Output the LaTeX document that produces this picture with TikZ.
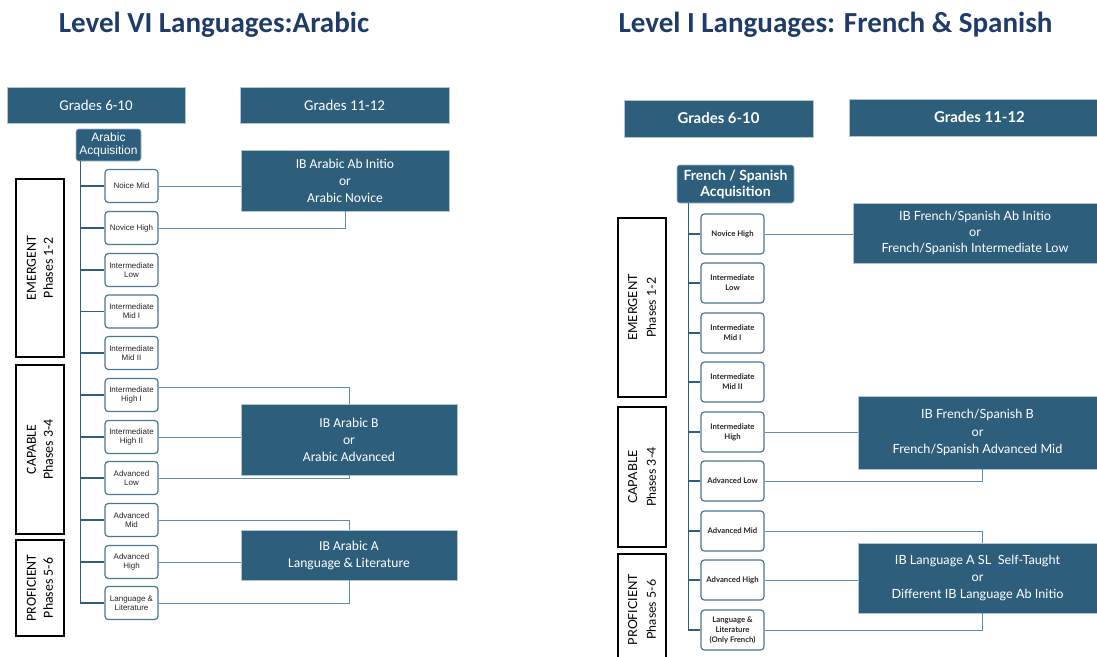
\documentclass[tikz,border=0pt]{standalone}
\usepackage{fontspec}
\setmainfont{Carlito}
\newfontfamily\arialfont{Liberation Sans}
\newfontfamily\latofont{Lato}
\usetikzlibrary{positioning}
\definecolor{boxblue}{HTML}{2D5F7D}
\definecolor{titleblue}{HTML}{1F3B6A}
\definecolor{lineblue}{HTML}{5F8CAB}
\definecolor{ulblue}{HTML}{3358B0}
\tikzstyle{title} = [text=titleblue, font={\bfseries\fontsize{21.8}{25}\selectfont}]
\tikzstyle{grade} = [fill=boxblue, draw=lineblue!50, text=white]
\tikzstyle{acq} = [fill=boxblue, draw=lineblue!60, rounded corners=2pt, text=white, align=center, inner sep=1pt]
\tikzstyle{level} = [draw=boxblue!85, fill=white, line width=0.9pt, rounded corners=2.5pt, align=center, inner sep=0pt, text=black!85]
\tikzstyle{alevel} = [level, minimum width=39.75pt, minimum height=24.75pt, font={\arialfont\fontsize{6}{6.6}\selectfont}]
\tikzstyle{flevel} = [level, minimum width=47.25pt, minimum height=30pt, font={\latofont\bfseries\fontsize{5.8}{7.5}\selectfont}]
\tikzstyle{ib} = [fill=boxblue, draw=lineblue!50, text=white, align=center]
\tikzstyle{phase} = [draw=black, line width=0.8pt, rotate=90, align=center, minimum height=36pt]
\tikzstyle{trunk} = [draw=boxblue, line width=1.1pt]
\tikzstyle{conn} = [draw=lineblue, line width=0.75pt]

\begin{document}
\begin{tikzpicture}[x=0.75pt,y=-0.75pt]
  \useasboundingbox (0,0) rectangle (1097,657);
  % Arabic
  \node[title](at) at (214,25){Level VI Languages:Arabic};
  \node[grade,minimum width=133.5pt,minimum height=27pt,font={\fontsize{11.2}{13}\selectfont}](ag1) at (96,105){Grades 6-10};
  \node[grade,minimum width=156.75pt,minimum height=27pt,font={\fontsize{11.2}{13}\selectfont}](ag2) at (344.5,105){Grades 11-12};
  \node[acq,minimum width=48.75pt,minimum height=24pt,font={\arialfont\fontsize{9}{9.8}\selectfont}](aacq) at (108.5,145){Arabic\\Acquisition};
  \node[phase,minimum width=133.5pt,font={\fontsize{10.4}{12.75}\selectfont}](ap1) at (40,268){EMERGENT\\Phases 1-2};
  \node[phase,minimum width=126.75pt,font={\fontsize{10.4}{12.75}\selectfont}](ap2) at (40,449.5){CAPABLE\\Phases 3-4};
  \node[phase,minimum width=72pt,font={\fontsize{10.4}{12.75}\selectfont}](ap3) at (40,588){PROFICIENT\\Phases 5-6};
  \node[alevel](a1) at (131.5,186){Noice Mid};
  \node[alevel](a2) at (131.5,228){Novice High};
  \node[alevel](a3) at (131.5,270){Intermediate\\Low};
  \node[alevel](a4) at (131.5,311.5){Intermediate\\Mid I};
  \node[alevel](a5) at (131.5,353){Intermediate\\Mid II};
  \node[alevel](a6) at (131.5,395){Intermediate\\High I};
  \node[alevel](a7) at (131.5,437){Intermediate\\High II};
  \node[alevel](a8) at (131.5,478){Advanced\\Low};
  \node[alevel](a9) at (131.5,520){Advanced\\Mid};
  \node[alevel](a10) at (131.5,562){Advanced\\High};
  \node[alevel](a11) at (131.5,603){Language \&\\Literature};
  \node[ib,minimum width=156pt,minimum height=45.75pt,font={\fontsize{10.2}{12.75}\selectfont}](abi) at (345,180.5){IB Arabic Ab Initio\\or\\Arabic Novice};
  \node[ib,minimum width=162pt,minimum height=53.25pt,font={\fontsize{10.2}{12.75}\selectfont}](ab) at (349,439.5){IB Arabic B\\or\\Arabic Advanced};
  \node[ib,minimum width=162pt,minimum height=37.5pt,font={\fontsize{10.2}{12.75}\selectfont}](aa) at (349,555){IB Arabic A\\Language \& Literature};
  \coordinate (atr) at ([xshift=3.75pt]aacq.south west);
  \draw[trunk] (atr) |- (a11.west);
  \draw[trunk] (a1.west -| atr) -- (a1.west);
  \draw[trunk] (a2.west -| atr) -- (a2.west);
  \draw[trunk] (a3.west -| atr) -- (a3.west);
  \draw[trunk] (a4.west -| atr) -- (a4.west);
  \draw[trunk] (a5.west -| atr) -- (a5.west);
  \draw[trunk] (a6.west -| atr) -- (a6.west);
  \draw[trunk] (a7.west -| atr) -- (a7.west);
  \draw[trunk] (a8.west -| atr) -- (a8.west);
  \draw[trunk] (a9.west -| atr) -- (a9.west);
  \draw[trunk] (a10.west -| atr) -- (a10.west);
  \draw[conn] (a1.east) -- (a1.east -| abi.west);
  \draw[conn] (a2.east) -| (abi.south);
  \draw[conn] ([yshift=6pt]a6.east) -| (ab.north);
  \draw[conn] (a7.east) -- (a7.east -| ab.west);
  \draw[conn] (a8.east) -| (ab.south);
  \draw[conn] (a9.east) -| (aa.north);
  \draw[conn] (a10.east) -- (a10.east -| aa.west);
  \draw[conn] (a11.east) -| (aa.south);
  % French / Spanish
  \node[title](ft) at (835.5,25){Level I Languages: French \& Spanish};
  \node[grade,minimum width=141.75pt,minimum height=27.75pt,font={\latofont\bfseries\fontsize{11.2}{13}\selectfont}](fg1) at (718.5,118.5){Grades 6-10};
  \node[grade,minimum width=195.75pt,minimum height=27.75pt,font={\latofont\bfseries\fontsize{11.2}{13}\selectfont}](fg2) at (979.5,117.5){Grades 11-12};
  \node[acq,minimum width=87.75pt,minimum height=28.5pt,font={\latofont\bfseries\fontsize{10.5}{12}\selectfont}](facq) at (735.5,184){French / Spanish\\Acquisition};
  \node[phase,minimum width=134.25pt,font={\latofont\fontsize{9.3}{14}\selectfont}](fp1) at (642,307.5){EMERGENT\\Phases 1-2};
  \node[phase,minimum width=105pt,font={\latofont\fontsize{9.3}{14}\selectfont}](fp2) at (642,477){CAPABLE\\Phases 3-4};
  \node[phase,minimum width=83.25pt,font={\latofont\fontsize{9.3}{14}\selectfont}](fp3) at (642,609.5){PROFICIENT\\Phases 5-6};
  \node[flevel](f1) at (732.5,234){Novice High};
  \node[flevel](f2) at (732.5,283){Intermediate\\Low};
  \node[flevel](f3) at (732.5,333){Intermediate\\Mid I};
  \node[flevel](f4) at (732.5,382){Intermediate\\Mid II};
  \node[flevel](f5) at (732.5,432){Intermediate\\High};
  \node[flevel](f6) at (732.5,481){Advanced Low};
  \node[flevel](f7) at (732.5,531){Advanced Mid};
  \node[flevel](f8) at (732.5,580){Advanced High};
  \node[flevel](f9) at (732.5,630){Language \&\\Literature\\(Only French)};
  \node[ib,minimum width=183pt,minimum height=45pt,font={\latofont\fontsize{9.5}{12.2}\selectfont}](fabi) at (975,233){IB French/Spanish Ab Initio\\or\\French/Spanish Intermediate Low};
  \node[ib,minimum width=179.25pt,minimum height=54.75pt,font={\latofont\fontsize{9.5}{13}\selectfont}](fb) at (977.5,432.5){IB French/Spanish B\\or\\French/Spanish Advanced Mid};
  \node[ib,minimum width=179.25pt,minimum height=52.5pt,font={\latofont\fontsize{9.5}{13}\selectfont}](fa) at (977.5,578){IB Language A {\color{ulblue}\underline{\color{white}SL~~Sel}}f-Taught\\or\\Different IB Language Ab Initio};
  \coordinate (ftr) at ([xshift=9pt]facq.south west);
  \draw[trunk] (ftr) |- (f9.west);
  \draw[trunk] (f1.west -| ftr) -- (f1.west);
  \draw[trunk] (f2.west -| ftr) -- (f2.west);
  \draw[trunk] (f3.west -| ftr) -- (f3.west);
  \draw[trunk] (f4.west -| ftr) -- (f4.west);
  \draw[trunk] (f5.west -| ftr) -- (f5.west);
  \draw[trunk] (f6.west -| ftr) -- (f6.west);
  \draw[trunk] (f7.west -| ftr) -- (f7.west);
  \draw[trunk] (f8.west -| ftr) -- (f8.west);
  \draw[conn] (f1.east) -- (f1.east -| fabi.west);
  \draw[conn] (f5.east) -- (f5.east -| fb.west);
  \draw[conn] (f6.east) -| ([xshift=4pt]fb.south);
  \draw[conn] (f7.east) -| ([xshift=4pt]fa.north);
  \draw[conn] (f8.east) -- (f8.east -| fa.west);
  \draw[conn] (f9.east) -| ([xshift=4pt]fa.south);
\end{tikzpicture}
\end{document}
